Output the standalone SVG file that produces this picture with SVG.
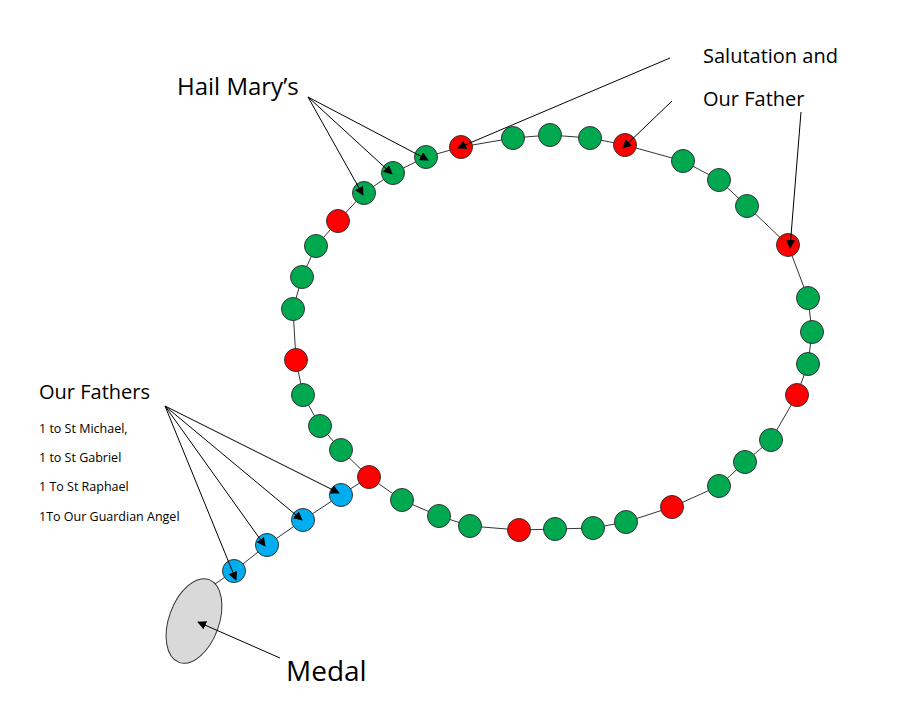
<svg xmlns="http://www.w3.org/2000/svg" width="911" height="707" viewBox="0 0 911 707">
<defs>
<marker id="ah" viewBox="0 0 10 10" refX="9" refY="5" markerWidth="9" markerHeight="9" markerUnits="userSpaceOnUse" orient="auto"><path d="M0,0 L10,5 L0,10 z" fill="#000"/></marker>
<style>
.g{fill:#00a94f;stroke:#333;stroke-width:1}
.r{fill:#ff0000;stroke:#333;stroke-width:1}
.b{fill:#00aeef;stroke:#333;stroke-width:1}
.s{fill:none;stroke:#333;stroke-width:1}
.a{stroke:#000;stroke-width:1;fill:none;marker-end:url(#ah)}
text{font-family:"Open Sans","Liberation Sans",sans-serif;fill:#000}
</style>
</defs>
<rect width="911" height="707" fill="#fff"/>
<g id="string">
<polyline class="s" points="369,477 341,450 320,426 303,395 296,360 293,309 302,277 316,246 338,221 364,193 393,173 426,157 461,147 513,138 550,135 590,138 625,145 683,161 719,180 747,206 788,245 808,298 812,332 808,364 797,395 771,440 745,462 719,486 672,507 626,522 593,528 555,529 519,530 470,526 439,516 402,500 369,477 341,495 303,520 267,545 234,571 212,586"/>
</g>
<g id="medal"><ellipse cx="194" cy="621" rx="25" ry="44" transform="rotate(20 194 621)" fill="#d9d9d9" stroke="#333"/></g>
<g id="beads">
<circle class="g" cx="426" cy="157" r="11.5"/><circle class="g" cx="393" cy="173" r="11.5"/><circle class="g" cx="364" cy="193" r="11.5"/>
<circle class="g" cx="316" cy="246" r="11.5"/><circle class="g" cx="302" cy="277" r="11.5"/><circle class="g" cx="293" cy="309" r="11.5"/>
<circle class="g" cx="303" cy="395" r="11.5"/><circle class="g" cx="320" cy="426" r="11.5"/><circle class="g" cx="341" cy="450" r="11.5"/>
<circle class="g" cx="402" cy="500" r="11.5"/><circle class="g" cx="439" cy="516" r="11.5"/><circle class="g" cx="470" cy="526" r="11.5"/>
<circle class="g" cx="555" cy="529" r="11.5"/><circle class="g" cx="593" cy="528" r="11.5"/><circle class="g" cx="626" cy="522" r="11.5"/>
<circle class="g" cx="719" cy="486" r="11.5"/><circle class="g" cx="745" cy="462" r="11.5"/><circle class="g" cx="771" cy="440" r="11.5"/>
<circle class="g" cx="808" cy="364" r="11.5"/><circle class="g" cx="812" cy="332" r="11.5"/><circle class="g" cx="808" cy="298" r="11.5"/>
<circle class="g" cx="747" cy="206" r="11.5"/><circle class="g" cx="719" cy="180" r="11.5"/><circle class="g" cx="683" cy="161" r="11.5"/>
<circle class="g" cx="590" cy="138" r="11.5"/><circle class="g" cx="550" cy="135" r="11.5"/><circle class="g" cx="513" cy="138" r="11.5"/>
<circle class="r" cx="461" cy="147" r="11.5"/><circle class="r" cx="625" cy="145" r="11.5"/><circle class="r" cx="788" cy="245" r="11.5"/>
<circle class="r" cx="797" cy="395" r="11.5"/><circle class="r" cx="672" cy="507" r="11.5"/><circle class="r" cx="519" cy="530" r="11.5"/>
<circle class="r" cx="369" cy="477" r="11.5"/><circle class="r" cx="296" cy="360" r="11.5"/><circle class="r" cx="338" cy="221" r="11.5"/>
<circle class="b" cx="341" cy="495" r="11.5"/><circle class="b" cx="303" cy="520" r="11.5"/><circle class="b" cx="267" cy="545" r="11.5"/><circle class="b" cx="234" cy="571" r="11.5"/>
</g>
<g id="connectors">
<line class="a" x1="308" y1="97" x2="428" y2="160"/>
<line class="a" x1="308" y1="97" x2="392" y2="174"/>
<line class="a" x1="308" y1="97" x2="363" y2="195"/>
<line class="a" x1="670" y1="58" x2="458" y2="148"/>
<line class="a" x1="672" y1="101" x2="623" y2="148"/>
<line class="a" x1="801" y1="112" x2="790" y2="248"/>
<line class="a" x1="165" y1="406" x2="339" y2="493"/>
<line class="a" x1="165" y1="406" x2="302" y2="520"/>
<line class="a" x1="165" y1="406" x2="265" y2="546"/>
<line class="a" x1="165" y1="406" x2="236" y2="580"/>
<line class="a" x1="280" y1="658" x2="198" y2="622"/>
</g>
<g id="labels">
<text x="177" y="95" font-size="24">Hail Mary’s</text>
<text x="703" y="63" font-size="20">Salutation and</text>
<text x="703" y="106" font-size="20">Our Father</text>
<text x="39" y="399" font-size="20">Our Fathers</text>
<text x="39" y="433" font-size="12.5">1 to St Michael,</text>
<text x="39" y="462" font-size="12.5">1 to St Gabriel</text>
<text x="39" y="491" font-size="12.5">1 To St Raphael</text>
<text x="39" y="521" font-size="12.5">1To Our Guardian Angel</text>
<text x="286" y="681" font-size="28">Medal</text>
</g>
</svg>
